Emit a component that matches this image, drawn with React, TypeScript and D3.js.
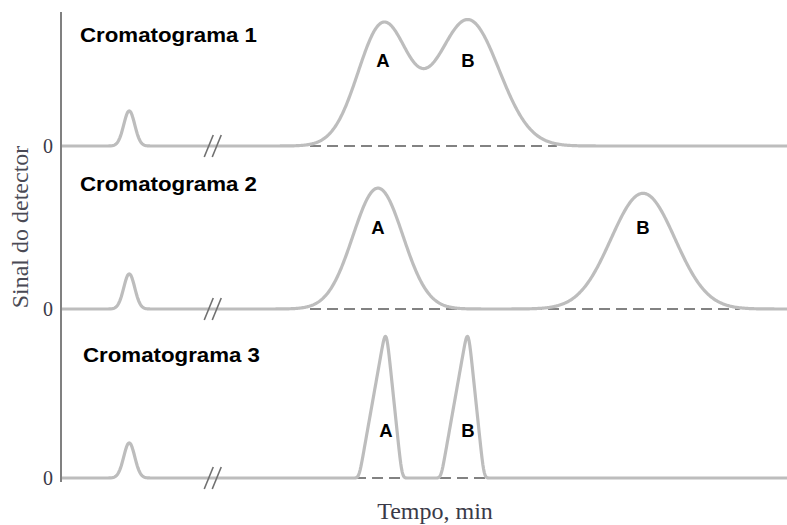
import React from "react";
import * as d3 from "d3";

// ---- data (time in arbitrary min units 0..100, signal in arbitrary units 0..100)
const panelTitles = ["Cromatograma 1", "Cromatograma 2", "Cromatograma 3"];
const zeroLabel = "0";
const xLabel = "Tempo, min";
const yLabel = "Sinal do detector";

// unretained (dead-time) peak, same in every panel
const deadPeak = { t: 9.4, h: 27, s: 0.76 };
const breakTime = 20.9;

// Gaussian peaks for panels 1 and 2: [name, retention time, height, sigma]
const panel1Peaks: [string, number, number, number][] = [
  ["A", 44.35, 93, 3.44],
  ["B", 56.06, 97, 4.27],
];
const panel2Peaks: [string, number, number, number][] = [
  ["A", 43.66, 93, 3.44],
  ["B", 80.17, 89, 4.41],
];
// Narrow triangular peaks for panel 3: [name, apex time, height, left half-width, right half-width]
const panel3Peaks: [string, number, number, number, number][] = [
  ["A", 44.77, 117, 3.72, 2.2],
  ["B", 56.06, 117, 3.72, 2.2],
];

// label heights (signal units) per panel
const labelHeights = [60.8, 57.7, 31.5];

// dashed baseline segments per panel: [start, end]
const panel1Dash: [number, number][] = [[34.3, 68.3]];
const panel2Dash: [number, number][] = [[34.3, 93.5]];
const panel3Dash: [number, number][] = [
  [40.5, 47.4],
  [52.2, 59.4],
];

const W = 787;
const H = 525;
const axisX = 61;
const baselines = [146, 309, 478];
const titleY = [42, 191, 362];
const titleX = [80, 80, 83];

const x = d3.scaleLinear().domain([0, 100]).range([axisX, W]);
const yScales = baselines.map((b) =>
  d3.scaleLinear().domain([0, 100]).range([b, b - 130])
);

const times = d3.range(0, 100.001, 0.1);

const gauss = (t: number, c: number, h: number, s: number) =>
  h * Math.exp(-((t - c) * (t - c)) / (2 * s * s));

const tri = (t: number, c: number, h: number, l: number, r: number) => {
  if (t <= c) return Math.max(0, h * (1 - (c - t) / l));
  return Math.max(0, h * (1 - (t - c) / r));
};

function signal(panel: number, t: number): number {
  let v = gauss(t, deadPeak.t, deadPeak.h, deadPeak.s);
  if (panel === 0) panel1Peaks.forEach(([, c, h, s]) => (v += gauss(t, c, h, s)));
  if (panel === 1) panel2Peaks.forEach(([, c, h, s]) => (v += gauss(t, c, h, s)));
  return v;
}

// panel 3: triangle smoothed slightly
function signal3(): number[] {
  const raw = times.map((t) => {
    let v = 0;
    panel3Peaks.forEach(([, c, h, l, r]) => (v += tri(t, c, h, l, r)));
    return v;
  });
  const ks = 0.25;
  const kernel = d3.range(-10, 11).map((i) => Math.exp(-((i * 0.1) ** 2) / (2 * ks * ks)));
  const ksum = d3.sum(kernel);
  return raw.map((_, i) => {
    let acc = 0;
    kernel.forEach((k, j) => {
      const idx = i + j - 10;
      acc += k * (idx >= 0 && idx < raw.length ? raw[idx] : 0);
    });
    return acc / ksum + gauss(times[i], deadPeak.t, deadPeak.h, deadPeak.s);
  });
}

export default function App() {
  const p3 = signal3();
  const series = [
    times.map((t) => signal(0, t)),
    times.map((t) => signal(1, t)),
    p3,
  ];
  const dashes = [panel1Dash, panel2Dash, panel3Dash];
  const labels = [
    panel1Peaks.map((p) => [p[0], p[1]] as [string, number]),
    panel2Peaks.map((p) => [p[0], p[1]] as [string, number]),
    panel3Peaks.map((p) => [p[0], p[1]] as [string, number]),
  ];

  return (
    <svg
      width={W}
      height={H}
      style={{ position: "absolute", left: 0, top: 0, background: "#fff" }}
    >
      {series.map((vals, pi) => {
        const y = yScales[pi];
        const line = d3
          .line<number>()
          .x((_, i) => x(times[i]))
          .y((v) => y(v));
        const bx = x(breakTime);
        const by = baselines[pi];
        return (
          <g key={pi}>
            {dashes[pi].map(([a, b], di) => (
              <line
                key={di}
                x1={x(a)}
                x2={x(b)}
                y1={y(0)}
                y2={y(0)}
                stroke="#5a5a5a"
                strokeWidth={1.5}
                strokeDasharray="11 6"
              />
            ))}
            <path d={line(vals) || ""} fill="none" stroke="#bdbdbd" strokeWidth={3.2} strokeLinejoin="round" />
            {[-4, 4].map((o) => (
              <line
                key={o}
                x1={bx + o - 4.5}
                y1={by + 11}
                x2={bx + o + 4.5}
                y2={by - 11}
                stroke="#707070"
                strokeWidth={1.6}
              />
            ))}
            <text
              x={titleX[pi]}
              y={titleY[pi]}
              fontFamily="Liberation Sans, Arial, sans-serif"
              fontWeight="bold"
              fontSize={19.5}
              textLength={177}
              lengthAdjust="spacingAndGlyphs"
              fill="#000"
            >
              {panelTitles[pi]}
            </text>
            {labels[pi].map(([name, t]) => (
              <text
                key={name}
                x={x(t)}
                y={y(labelHeights[pi])}
                textAnchor="middle"
                fontFamily="Liberation Sans, Arial, sans-serif"
                fontWeight="bold"
                fontSize={18.5}
                fill="#000"
              >
                {name}
              </text>
            ))}
            <text
              x={48}
              y={by + 7}
              textAnchor="middle"
              fontFamily="Liberation Serif, Times New Roman, serif"
              fontSize={20}
              fill="#3a3a48"
            >
              {zeroLabel}
            </text>
          </g>
        );
      })}
      <line x1={axisX} x2={axisX} y1={12} y2={482} stroke="#808080" strokeWidth={2} />
      <text
        transform={`translate(28,227) rotate(-90)`}
        textAnchor="middle"
        fontFamily="Liberation Serif, Times New Roman, serif"
        fontSize={24}
        fill="#4a4a55"
      >
        {yLabel}
      </text>
      <text
        x={435}
        y={519}
        textAnchor="middle"
        fontFamily="Liberation Serif, Times New Roman, serif"
        fontSize={24}
        fill="#3a3a48"
      >
        {xLabel}
      </text>
    </svg>
  );
}
